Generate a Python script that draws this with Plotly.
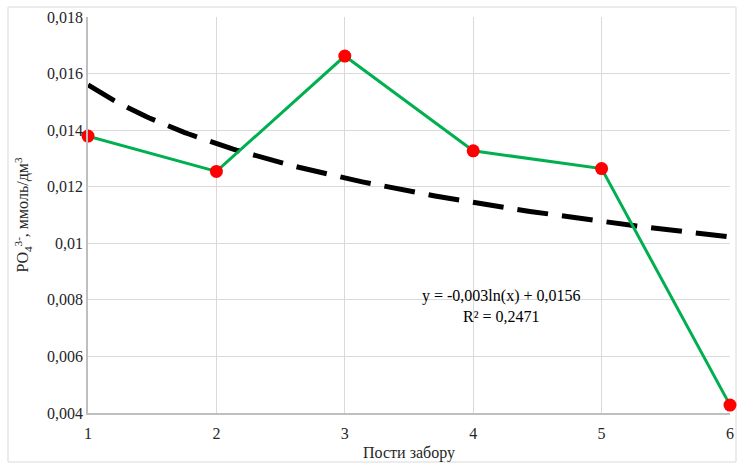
import numpy as np
import plotly.graph_objects as go

posts = [1, 2, 3, 4, 5, 6]
po4 = [0.01379, 0.01254, 0.01662, 0.01327, 0.01264, 0.00428]
trend_a = -0.003
trend_b = 0.0156
y_ticks = [0.004, 0.006, 0.008, 0.010, 0.012, 0.014, 0.016, 0.018]
y_ticktext = ["0,004", "0,006", "0,008", "0,01", "0,012", "0,014", "0,016", "0,018"]
eq_text = "y = -0,003ln(x) + 0,0156<br>R² = 0,2471"

tx = np.linspace(1, 6, 200)
ty = trend_a * np.log(tx) + trend_b

fig = go.Figure()
fig.add_trace(go.Scatter(x=tx, y=ty, mode="lines",
                         line=dict(color="black", width=5, dash="31px,14px"),
                         hoverinfo="skip", showlegend=False))
fig.add_trace(go.Scatter(x=posts, y=po4, mode="lines+markers",
                         line=dict(color="#00B050", width=3),
                         marker=dict(color="#FF0000", size=13),
                         cliponaxis=False, showlegend=False))

font = "Liberation Serif"
fig.update_layout(
    width=738, height=464,
    margin=dict(l=88, r=8, t=17, b=51),
    paper_bgcolor="white", plot_bgcolor="white",
    font=dict(family=font, size=16, color="#262626"),
    xaxis=dict(range=[1, 6], tickvals=posts, ticktext=[str(p) for p in posts],
               showgrid=True, gridcolor="#D9D9D9", gridwidth=1,
               showline=True, linecolor="#BFBFBF", linewidth=1.5,
               zeroline=False, ticks="", ticklen=0, ticklabeloverflow="allow",
               ticklabelstandoff=5, automargin=False,
               tickfont=dict(family=font, size=16),
               title=dict(text="Пости забору", font=dict(family=font, size=16), standoff=6)),
    yaxis=dict(range=[0.004, 0.018], tickvals=y_ticks, ticktext=y_ticktext,
               showgrid=True, gridcolor="#D9D9D9", gridwidth=1,
               showline=True, linecolor="#BFBFBF", linewidth=1.5,
               zeroline=False, ticks="", ticklen=0, automargin=False,
               tickfont=dict(family=font, size=16),
               title=dict(text="PO<sub>4</sub><sup>3-</sup>, ммоль/дм<sup>3</sup>",
                          font=dict(family=font, size=16), standoff=14)),
    annotations=[dict(x=4.22, y=0.0078, xref="x", yref="y", text=eq_text,
                      showarrow=False, font=dict(family=font, size=16, color="black"),
                      align="center")],
    shapes=[dict(type="rect", xref="paper", yref="paper",
                 x0=(8 - 88) / 642, x1=(736 - 88) / 642,
                 y0=-(462 - 413) / 396, y1=1 + (17 - 7) / 396,
                 line=dict(color="#D9D9D9", width=1), layer="below")],
)

fig.write_html("out.html", config={"displayModeBar": False},
               post_script="document.body.style.margin='0';")
